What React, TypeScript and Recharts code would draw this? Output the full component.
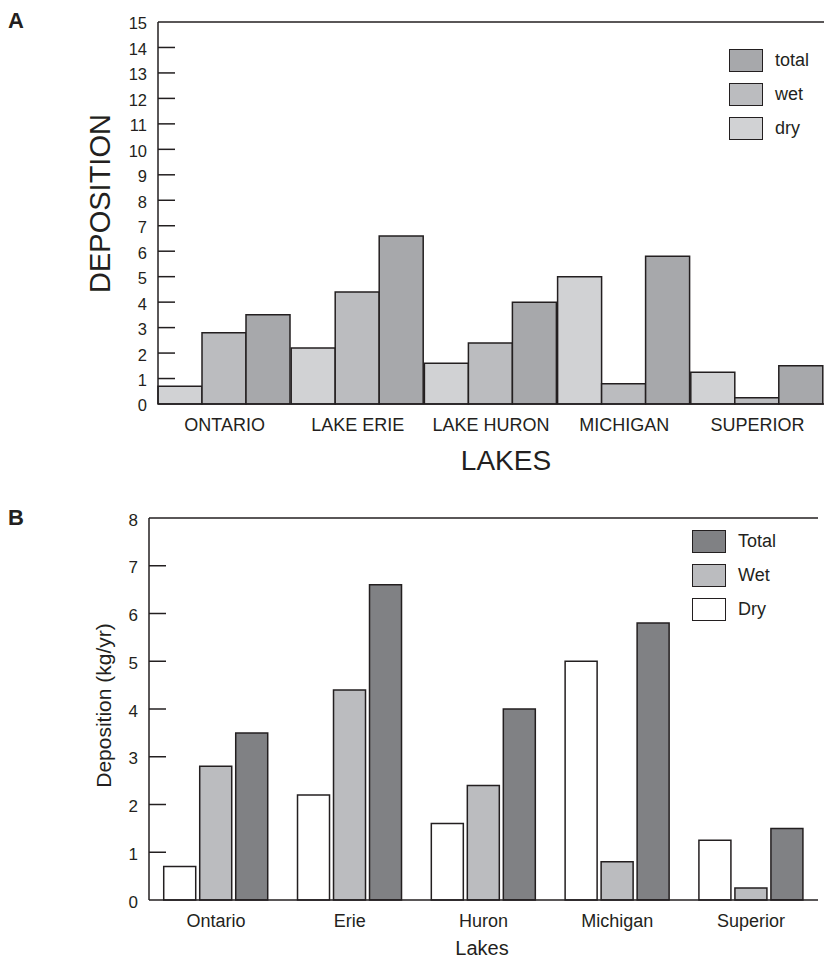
import React from 'react';
import { BarChart, Bar, XAxis, YAxis, Legend, ReferenceLine, Label } from 'recharts';

const lakesA = ['ONTARIO', 'LAKE ERIE', 'LAKE HURON', 'MICHIGAN', 'SUPERIOR'];
const lakesB = ['Ontario', 'Erie', 'Huron', 'Michigan', 'Superior'];
const dryValues = [0.7, 2.2, 1.6, 5.0, 1.25];
const wetValues = [2.8, 4.4, 2.4, 0.8, 0.25];
const totalValues = [3.5, 6.6, 4.0, 5.8, 1.5];
const ticksA = [0, 1, 2, 3, 4, 5, 6, 7, 8, 9, 10, 11, 12, 13, 14, 15];
const ticksB = [0, 1, 2, 3, 4, 5, 6, 7, 8];
const legendA = ['total', 'wet', 'dry'];
const legendB = ['Total', 'Wet', 'Dry'];

const INK = '#231f20';
const FONT = '"Liberation Sans", Arial, Helvetica, sans-serif';
const colorsA = { dry: '#d1d2d4', wet: '#bbbcbf', total: '#a7a8ab' };
const colorsB = { dry: '#ffffff', wet: '#bbbcbf', total: '#808184' };

const dataA = lakesA.map((lake, i) => ({ lake, dry: dryValues[i], wet: wetValues[i], total: totalValues[i] }));
const dataB = lakesB.map((lake, i) => ({ lake, dry: dryValues[i], wet: wetValues[i], total: totalValues[i] }));

const makeYTick = (max: number, fontSize: number) => (props: any) => {
  const { x, y, payload } = props;
  const v = payload.value;
  return (
    <g>
      {v !== 0 && v !== max && (
        <line x1={x + 11} x2={x + 28} y1={y} y2={y} stroke={INK} strokeWidth={1.5} />
      )}
      <text x={x} y={y + 1.5} dy="0.36em" textAnchor="end" fontSize={fontSize} fill={INK} fontFamily={FONT}>
        {v}
      </text>
    </g>
  );
};

const makeLegend = (labels: string[], colors: string[], fontSize: number) => () => (
  <div style={{ fontFamily: FONT }}>
    {labels.map((lab, i) => (
      <div key={lab} style={{ display: 'flex', alignItems: 'center', height: 23, marginBottom: 11 }}>
        <div style={{ width: 34, height: 23, boxSizing: 'border-box', border: `1.5px solid ${INK}`, background: colors[i] }} />
        <span style={{ marginLeft: 12, fontSize, color: INK, lineHeight: '23px' }}>{lab}</span>
      </div>
    ))}
  </div>
);

const barStroke = { stroke: INK, strokeWidth: 1.5, isAnimationActive: false };

export default function App() {
  return (
    <div style={{ position: 'absolute', left: 0, top: 0, width: 824, height: 958, background: '#fff', fontFamily: FONT }}>
      <div style={{ position: 'absolute', left: 8, top: 8, fontSize: 22, fontWeight: 'bold', color: INK, fontFamily: FONT, lineHeight: '26px' }}>A</div>
      <div style={{ position: 'absolute', left: 8, top: 505, fontSize: 22, fontWeight: 'bold', color: INK, fontFamily: FONT, lineHeight: '26px' }}>B</div>

      <div style={{ position: 'absolute', left: 0, top: 0 }}>
        <BarChart width={824} height={480} data={dataA} margin={{ top: 22, right: 0, left: 98, bottom: 46 }} barCategoryGap={0} barGap={0}>
          <XAxis dataKey="lake" height={30} tickLine={false} tickSize={0} tickMargin={14} axisLine={{ stroke: INK, strokeWidth: 1.5 }}
            tick={{ fill: INK, fontSize: 18, fontFamily: FONT }} interval={0}>
            <Label content={(p: any) => {
              const vb = p.viewBox;
              return <text x={vb.x + vb.width / 2 + 15} y={vb.y + 66} textAnchor="middle" fontSize={28} fill={INK} fontFamily={FONT}>LAKES</text>;
            }} />
          </XAxis>
          <YAxis domain={[0, 15]} ticks={ticksA} interval={0} width={60} tickLine={false} tickSize={0} tickMargin={11}
            axisLine={{ stroke: INK, strokeWidth: 1.5 }} tick={makeYTick(15, 16.5)}>
            <Label content={(p: any) => {
              const vb = p.viewBox;
              const cx = vb.x + 12;
              const cy = vb.y + vb.height / 2 - 9.5;
              return <text x={cx} y={cy} transform={`rotate(-90 ${cx} ${cy})`} textAnchor="middle" fontSize={29} fill={INK} fontFamily={FONT}>DEPOSITION</text>;
            }} />
          </YAxis>
          <ReferenceLine y={15} stroke={INK} strokeWidth={1.5} />
          <Bar dataKey="dry" name="dry" fill={colorsA.dry} {...barStroke} />
          <Bar dataKey="wet" name="wet" fill={colorsA.wet} {...barStroke} />
          <Bar dataKey="total" name="total" fill={colorsA.total} {...barStroke} />
          <Legend layout="vertical" align="center" verticalAlign="middle"
            wrapperStyle={{ left: 729, top: 49, width: 'auto', height: 'auto' }}
            content={makeLegend(legendA, [colorsA.total, colorsA.wet, colorsA.dry], 18)} />
        </BarChart>
      </div>

      <div style={{ position: 'absolute', left: 0, top: 480 }}>
        <BarChart width={824} height={478} data={dataB} margin={{ top: 38, right: 6, left: 89, bottom: 28 }} barCategoryGap="11%" barGap={4}>
          <XAxis dataKey="lake" height={30} tickLine={false} tickSize={0} tickMargin={14} axisLine={{ stroke: INK, strokeWidth: 1.5 }}
            tick={{ fill: INK, fontSize: 18, fontFamily: FONT }} interval={0}>
            <Label content={(p: any) => {
              const vb = p.viewBox;
              return <text x={vb.x + vb.width / 2 - 1.5} y={vb.y + 55} textAnchor="middle" fontSize={20} fill={INK} fontFamily={FONT}>Lakes</text>;
            }} />
          </XAxis>
          <YAxis domain={[0, 8]} ticks={ticksB} interval={0} width={60} tickLine={false} tickSize={0} tickMargin={11}
            axisLine={{ stroke: INK, strokeWidth: 1.5 }} tick={makeYTick(8, 17)}>
            <Label content={(p: any) => {
              const vb = p.viewBox;
              const cx = vb.x + 21.5;
              const cy = vb.y + vb.height / 2 - 3.5;
              return <text x={cx} y={cy} transform={`rotate(-90 ${cx} ${cy})`} textAnchor="middle" fontSize={21} fill={INK} fontFamily={FONT}>Deposition (kg/yr)</text>;
            }} />
          </YAxis>
          <YAxis yAxisId="right" orientation="right" width={0} tick={false} tickLine={false} axisLine={{ stroke: INK, strokeWidth: 1.5 }} />
          <ReferenceLine y={8} stroke={INK} strokeWidth={1.5} />
          <Bar dataKey="dry" name="Dry" fill={colorsB.dry} {...barStroke} />
          <Bar dataKey="wet" name="Wet" fill={colorsB.wet} {...barStroke} />
          <Bar dataKey="total" name="Total" fill={colorsB.total} {...barStroke} />
          <Legend layout="vertical" align="center" verticalAlign="middle"
            wrapperStyle={{ left: 692, top: 50, width: 'auto', height: 'auto' }}
            content={makeLegend(legendB, [colorsB.total, colorsB.wet, colorsB.dry], 18)} />
        </BarChart>
      </div>
    </div>
  );
}
